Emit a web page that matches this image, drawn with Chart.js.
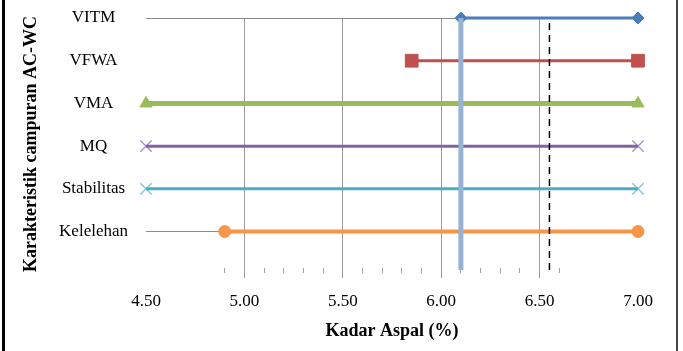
<!DOCTYPE html>
<html>
<head>
<meta charset="utf-8">
<script src="https://cdn.jsdelivr.net/npm/chart.js@4"></script>
<style>
  body { margin: 0; background: #fff; }
  #wrap { position: relative; width: 683px; height: 351px; }
  #wrap canvas { position: absolute; left: 0; top: 0; }
  .edgeL { position: absolute; left: 2px; top: 0; width: 3px; height: 351px; background: #000; }
  .edgeR { position: absolute; left: 676px; top: 0; width: 2px; height: 351px; background: #444; }
</style>
</head>
<body>
<div id="wrap">
  <canvas id="chart" width="683" height="351"></canvas>
  <div class="edgeL"></div>
  <div class="edgeR"></div>
</div>
<script>
// rows from bottom (1) to top (6)
const categories = ["Kelelehan", "Stabilitas", "MQ", "VMA", "VFWA", "VITM"]
const rangeStart = [4.90, 4.50, 4.50, 4.50, 5.85, 6.10]
const rangeEnd = [7.00, 7.00, 7.00, 7.00, 7.00, 7.00]
const optimumKadar = 6.10
const batasKadar = 6.55
const xTicks = [4.5, 5.0, 5.5, 6.0, 6.5, 7.0]
const minorTicks = [4.9, 5.1, 5.2, 5.3, 5.4, 5.6, 5.7, 5.8, 5.9, 6.1, 6.2, 6.3, 6.4, 6.6]

const serif = "'Liberation Serif', 'Times New Roman', serif"

const styles = {
  Kelelehan: { color: "#F79646", width: 4, point: "circle", radius: 6 },
  Stabilitas: { color: "#4BACC6", width: 3, point: "crossRot", radius: 8 },
  MQ: { color: "#8064A2", width: 3, point: "crossRot", radius: 8 },
  VMA: { color: "#9BBB59", width: 5, point: "triangle", radius: 7 },
  VFWA: { color: "#C0504D", width: 3, point: "rect", radius: 9 },
  VITM: { color: "#4A7EBB", width: 3, point: "rectRot", radius: 6 },
}

const rowSets = categories.map((name, i) => {
  const s = styles[name]
  const cross = s.point === "crossRot"
  return {
    label: name,
    data: [{ x: rangeStart[i], y: i + 1 }, { x: rangeEnd[i], y: i + 1 }],
    borderColor: s.color,
    borderWidth: s.width,
    pointStyle: s.point,
    pointRadius: s.radius,
    pointBackgroundColor: s.color,
    pointBorderColor: cross ? s.color + "AA" : s.color,
    pointBorderWidth: cross ? 1.5 : 1,
    clip: false,
  }
})

const verticals = [
  {
    label: "optimum",
    data: [{ x: optimumKadar, y: 0.1 }, { x: optimumKadar, y: 6 }],
    borderColor: "#95B3D7",
    borderWidth: 5,
    pointRadius: 0,
    clip: false,
  },
  {
    label: "batas",
    data: [{ x: batasKadar, y: 0.1 }, { x: batasKadar, y: 6 }],
    borderColor: "#000000",
    borderWidth: 1.5,
    borderDash: [7, 5],
    pointRadius: 0,
    clip: false,
  },
]

const ctx = document.getElementById("chart").getContext("2d")
new Chart(ctx, {
  type: "line",
  data: {
    // first dataset is drawn on top
    datasets: [...verticals, ...rowSets.reverse()],
  },
  options: {
    responsive: false,
    animation: false,
    layout: { autoPadding: false, padding: { left: 6, right: 45, top: 18, bottom: 5 } },
    plugins: {
      legend: { display: false },
      tooltip: { enabled: false },
    },
    scales: {
      x: {
        type: "linear",
        min: 4.5,
        max: 7,
        afterBuildTicks: (scale) => {
          scale.ticks = xTicks.map((v) => ({ value: v }))
        },
        afterFit: (scale) => {
          scale.height = 76
        },
        border: { display: false },
        grid: {
          color: (c) => (c.tick && (c.tick.value === 4.5 || c.tick.value === 7) ? "rgba(0,0,0,0)" : "#9A9A9A"),
          lineWidth: 1,
          tickLength: 8,
        },
        ticks: {
          color: "#000",
          padding: 13,
          font: { family: serif, size: 17 },
          callback: (v) => Number(v).toFixed(2),
        },
        title: {
          display: true,
          text: "Kadar Aspal (%)",
          color: "#000",
          font: { family: serif, size: 18, weight: "bold" },
          padding: { top: 4, bottom: 4 },
        },
      },
      xm: {
        type: "linear",
        axis: "x",
        min: 4.5,
        max: 7,
        position: { y: 0.15 },
        afterBuildTicks: (scale) => {
          scale.ticks = minorTicks.map((v) => ({ value: v }))
        },
        border: { display: false },
        grid: { drawOnChartArea: false, tickLength: 5, tickColor: "#A0A0A0" },
        ticks: { display: false },
      },
      y: {
        type: "linear",
        min: 0.1,
        max: 6,
        afterBuildTicks: (scale) => {
          scale.ticks = categories.map((_, i) => ({ value: i + 1 }))
        },
        afterFit: (scale) => {
          scale.width = 140
        },
        border: { display: false },
        grid: {
          drawTicks: true,
          tickLength: 18,
          tickColor: "rgba(0,0,0,0)",
          color: (c) => (c.tick && (c.tick.value === 1 || c.tick.value === 6) ? "#8C8C8C" : "rgba(0,0,0,0)"),
        },
        ticks: {
          color: "#000",
          crossAlign: "center",
          padding: 0,
          font: { family: serif, size: 17 },
          callback: (v) => categories[v - 1] || "",
        },
        title: {
          display: true,
          text: "Karakteristik campuran AC-WC",
          color: "#000",
          font: { family: serif, size: 18, weight: "bold" },
          padding: { top: 15, bottom: 0 },
        },
      },
    },
  },
})
</script>
</body>
</html>
